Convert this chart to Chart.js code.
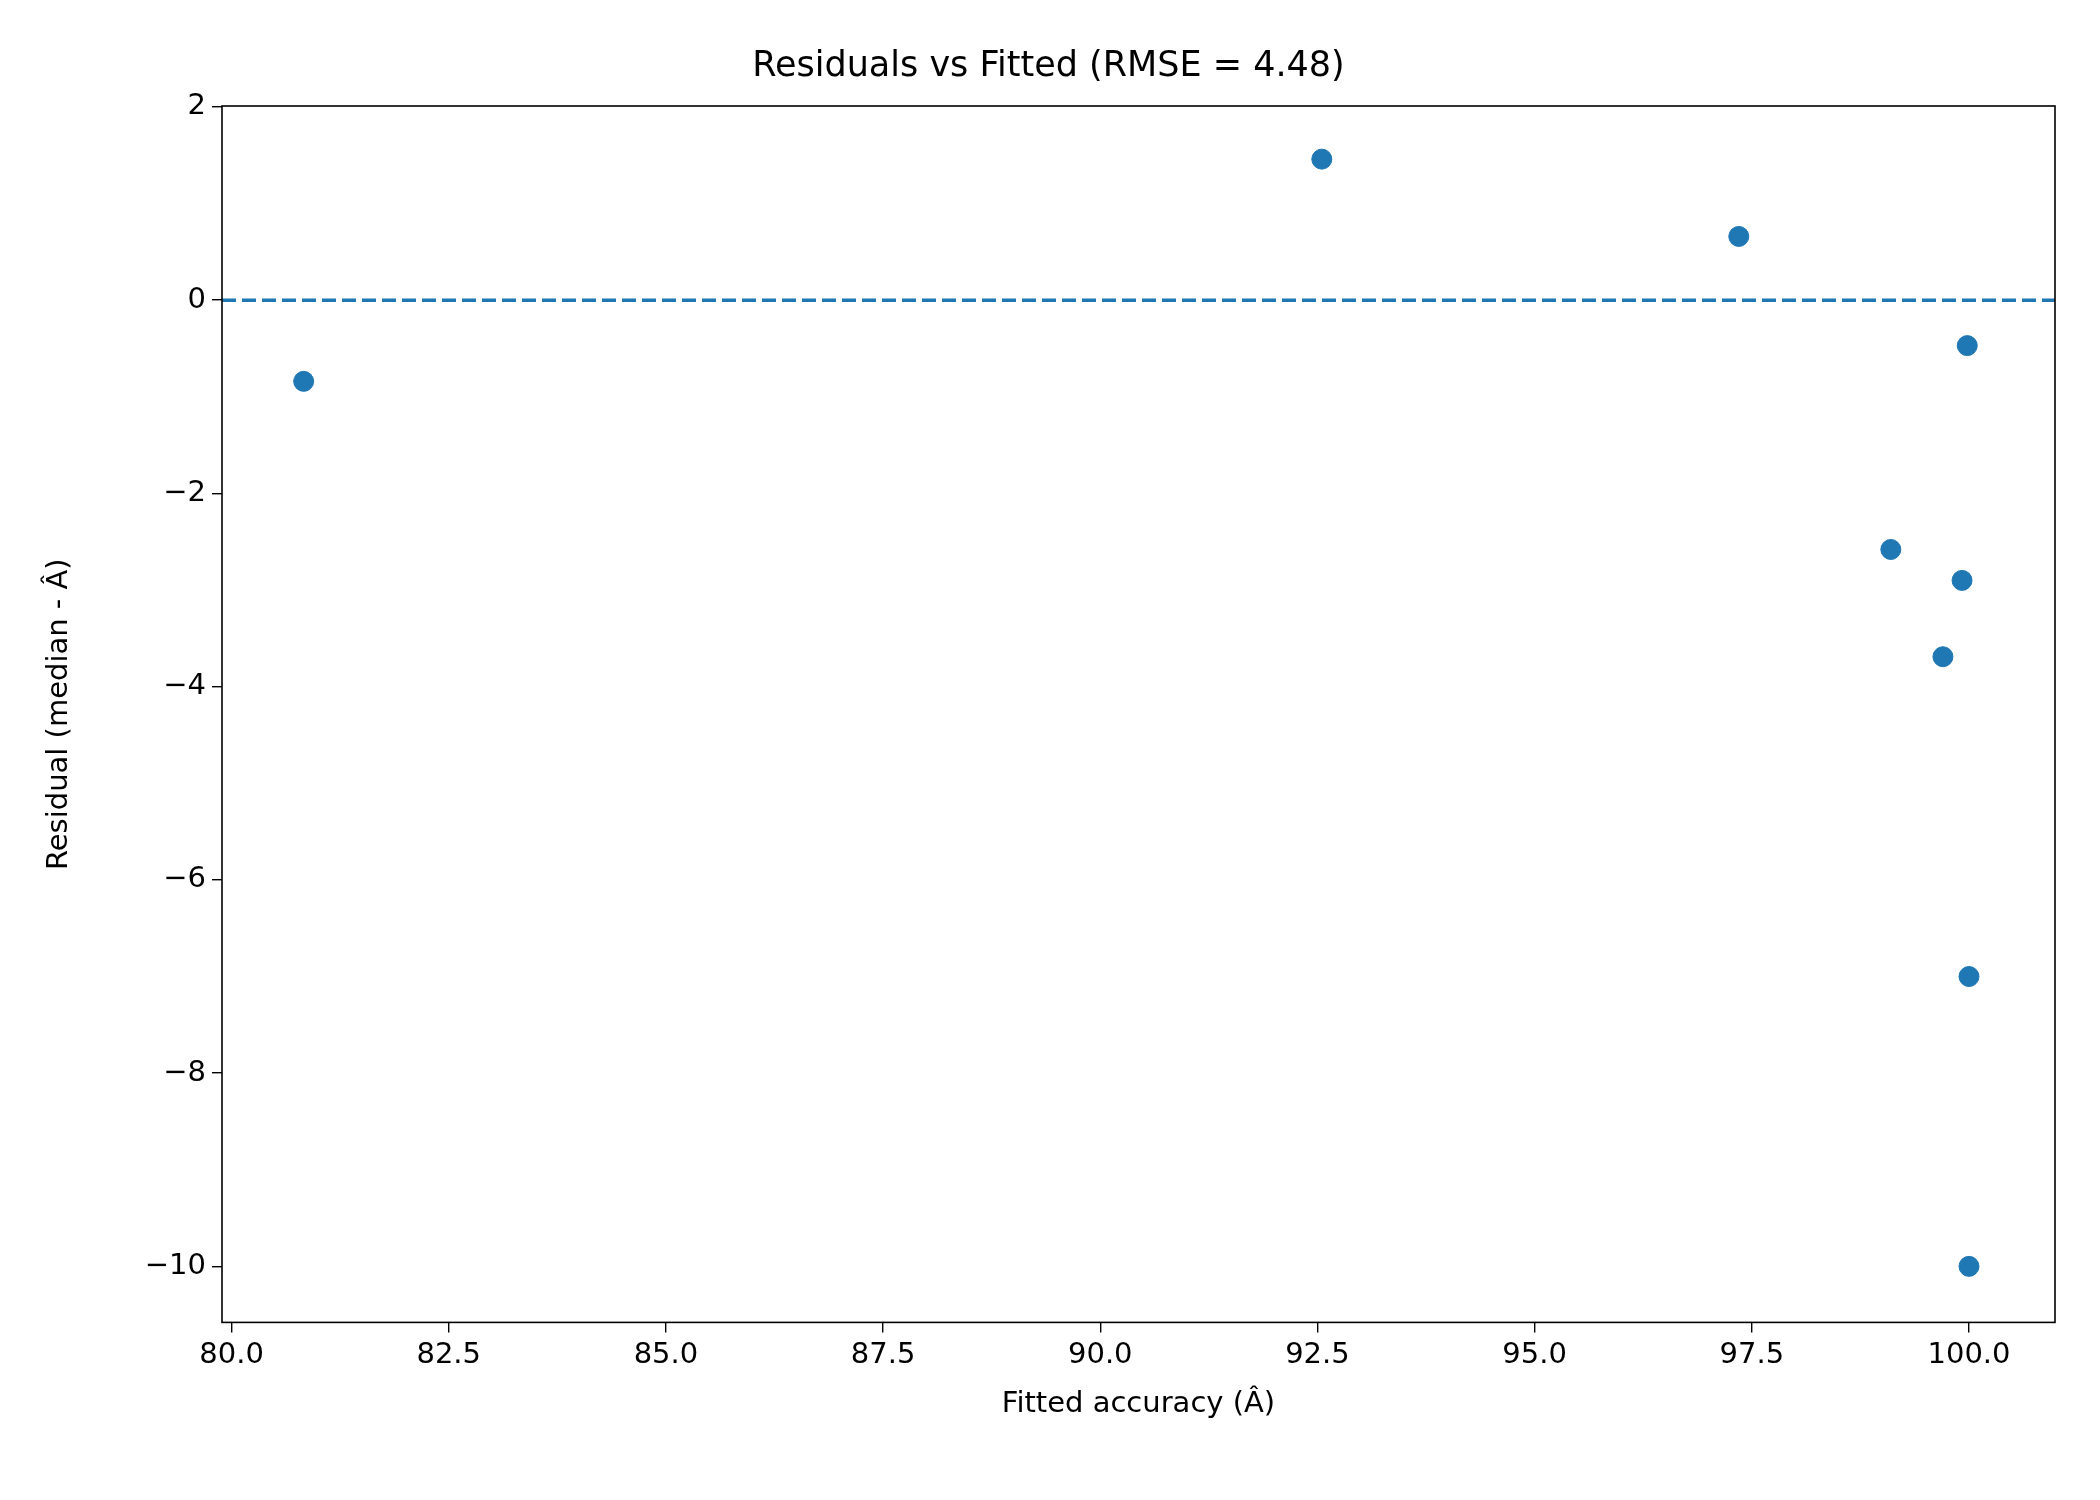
<!DOCTYPE html>
<html><head><meta charset="utf-8">
<script src="https://cdn.jsdelivr.net/npm/chart.js@4/dist/chart.umd.min.js"></script>
<style>html,body{margin:0;padding:0;background:#fff}#w{width:2100px;height:1500px}</style>
</head><body><div id="w"><canvas id="c"></canvas></div>
<script>
const fittedX = [80.83, 92.55, 97.35, 99.98, 99.1, 99.92, 99.7, 100.0, 100.0];
const residualY = [-0.84, 1.46, 0.66, -0.47, -2.58, -2.9, -3.69, -7.0, -10.0];
const xTicks = [80, 82.5, 85, 87.5, 90, 92.5, 95, 97.5, 100];
const yTicks = [-10, -8, -6, -4, -2, 0, 2];
const xRange = [79.89, 100.99];
const yRange = [-10.58, 2.01];
const titleText = 'Residuals vs Fitted (RMSE = 4.48)';
const xLabel = 'Fitted accuracy (Â)';
const yLabel = 'Residual (median - Â)';
const C = '#1f77b4';
const F = 'DejaVu Sans';
Chart.defaults.font.family = F;
Chart.defaults.color = '#000';
const frame = {id:'frame', afterDraw(ch){const a=ch.chartArea,x=ch.ctx;x.save();x.strokeStyle='#000';x.lineWidth=1.6;x.strokeRect(a.left,a.top,a.right-a.left,a.bottom-a.top);x.restore();}};
new Chart(document.getElementById('c'), {
  type:'scatter',
  data:{datasets:[
    {type:'line',data:xRange.map(v=>({x:v,y:0})),borderColor:C,borderWidth:3.6,borderDash:[14,6],pointRadius:0,order:2},
    {data:fittedX.map((v,i)=>({x:v,y:residualY[i]})),backgroundColor:C,borderColor:C,pointRadius:10,pointHoverRadius:10,order:1}
  ]},
  options:{responsive:true,maintainAspectRatio:false,devicePixelRatio:1,animation:false,
    layout:{padding:{top:0,right:45,bottom:0,left:42}},
    plugins:{legend:{display:false},tooltip:{enabled:false},
      title:{display:true,text:titleText,font:{size:35,weight:'normal',family:F},padding:{top:46,bottom:18}}},
    scales:{
      x:{type:'linear',min:xRange[0],max:xRange[1],
        afterBuildTicks:s=>{s.ticks=xTicks.map(v=>({value:v}));},
        ticks:{font:{size:29},callback:v=>v.toFixed(1),maxRotation:0,padding:6},
        grid:{drawOnChartArea:false,color:'#000',tickLength:10,lineWidth:1.4},border:{display:false},
        title:{display:true,text:xLabel,font:{size:29},padding:{top:8,bottom:78}}},
      y:{type:'linear',min:yRange[0],max:yRange[1],
        afterBuildTicks:s=>{s.ticks=yTicks.map(v=>({value:v}));},
        afterFit:s=>{s.width=180;},
        ticks:{font:{size:29},callback:v=>String(v).replace('-','\u2212'),padding:6},
        grid:{drawOnChartArea:false,color:'#000',tickLength:10,lineWidth:1.4},border:{display:false},
        title:{display:true,text:yLabel,font:{size:29},padding:{top:0,bottom:18}}}
    }
  },
  plugins:[frame]
});
</script></body></html>
